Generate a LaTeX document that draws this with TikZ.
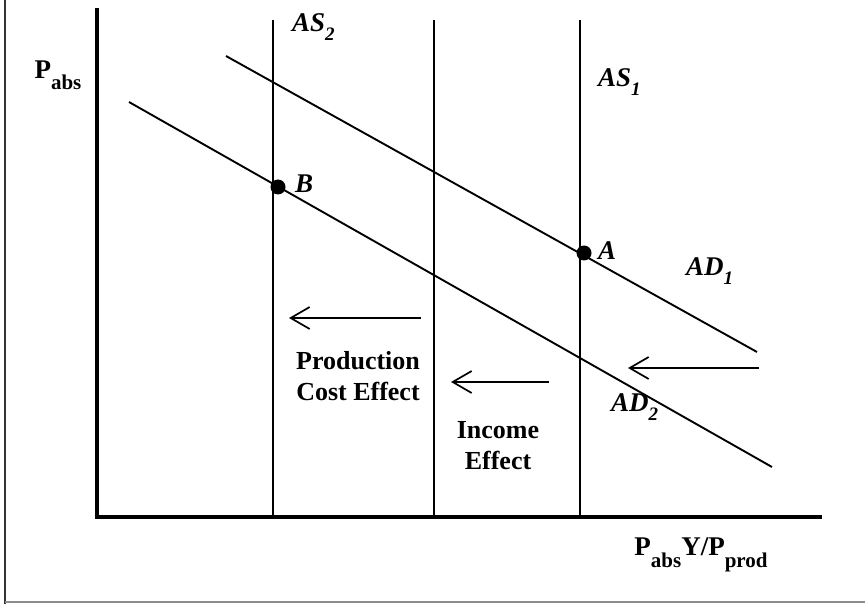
\documentclass[tikz,border=0pt]{standalone}
\usepackage{fontspec}
\setmainfont{Liberation Serif}
\usetikzlibrary{arrows.meta}
\newcommand\mysub[1]{\raisebox{-0.34em}{\fontsize{19}{19}\selectfont #1}}
\newcommand\myaxsub[1]{\raisebox{-0.42em}{\fontsize{21}{21}\selectfont #1}}
\begin{document}
\begin{tikzpicture}[x=1pt,y=-1pt,
  curve/.style={line width=1.9pt},
  axisline/.style={line width=4.8pt},
  shiftarrow/.style={line width=1.7pt,-{Straight Barb[length=19pt,width=22pt]}},
  lab/.style={font=\fontsize{27}{27}\selectfont\bfseries\itshape, inner sep=0pt, anchor=west},
  eff/.style={font=\fontsize{26}{31}\selectfont\bfseries, align=center, inner sep=0pt},
  axlab/.style={font=\fontsize{27}{27}\selectfont\bfseries, inner sep=0pt},
  dot/.style={circle, fill=black, inner sep=0pt, minimum size=15pt}]
\useasboundingbox (0,0) rectangle (865,604);
% frame
\draw[line width=2.5pt, black!80] (5,0) -- (5,604);
\draw[line width=2pt, black!45] (5,602) -- (865,602);
% axes
\coordinate (ytop) at (97,8);
\coordinate (orig) at (97,517);
\coordinate (xend) at (822,517);
\draw[axisline] (ytop) -- (orig);
\draw[axisline] (95,517) -- (xend);
% verticals
\coordinate (as2t) at (273,20); \coordinate (as2b) at (273,517);
\coordinate (midt) at (434,20); \coordinate (midb) at (434,517);
\coordinate (as1t) at (580,20); \coordinate (as1b) at (580,517);
\draw[curve] (as2t) -- (as2b);
\draw[curve] (midt) -- (midb);
\draw[curve] (as1t) -- (as1b);
% AD curves
\coordinate (ad1a) at (226,56); \coordinate (ad1b) at (757,352);
\coordinate (ad2a) at (129,102); \coordinate (ad2b) at (772,467);
\draw[curve] (ad1a) -- (ad1b);
\draw[curve] (ad2a) -- (ad2b);
% points
\node[dot] (B) at (278,187) {};
\node[dot] (A) at (584,253) {};
\node[lab] (Blab) at (295,184) {B};
\node[lab] (Alab) at (598,251) {A};
% labels
\node[lab] (as2lab) at (292,27) {AS\mysub{2}};
\node[lab] (as1lab) at (598,82) {AS\mysub{1}};
\node[lab] (ad1lab) at (686,271) {AD\mysub{1}};
\node[lab] (ad2lab) at (611,407) {AD\mysub{2}};
\node[axlab] (ylab) at (58,75) {P\myaxsub{abs}};
\node[axlab] (xlab) at (701,555) {P\myaxsub{abs}Y/P\myaxsub{prod}};
% arrows
\coordinate (a1s) at (421,318); \coordinate (a1e) at (289,318);
\coordinate (a2s) at (759,368); \coordinate (a2e) at (628,368);
\coordinate (a3s) at (549,382); \coordinate (a3e) at (451,382);
\draw[shiftarrow] (a1s) -- (a1e);
\draw[shiftarrow] (a2s) -- (a2e);
\draw[shiftarrow] (a3s) -- (a3e);
% effect texts
\node[eff] (pce) at (358,376) {Production\\Cost Effect};
\node[eff] (ie) at (498,446) {Income\\Effect};
\end{tikzpicture}
\end{document}
